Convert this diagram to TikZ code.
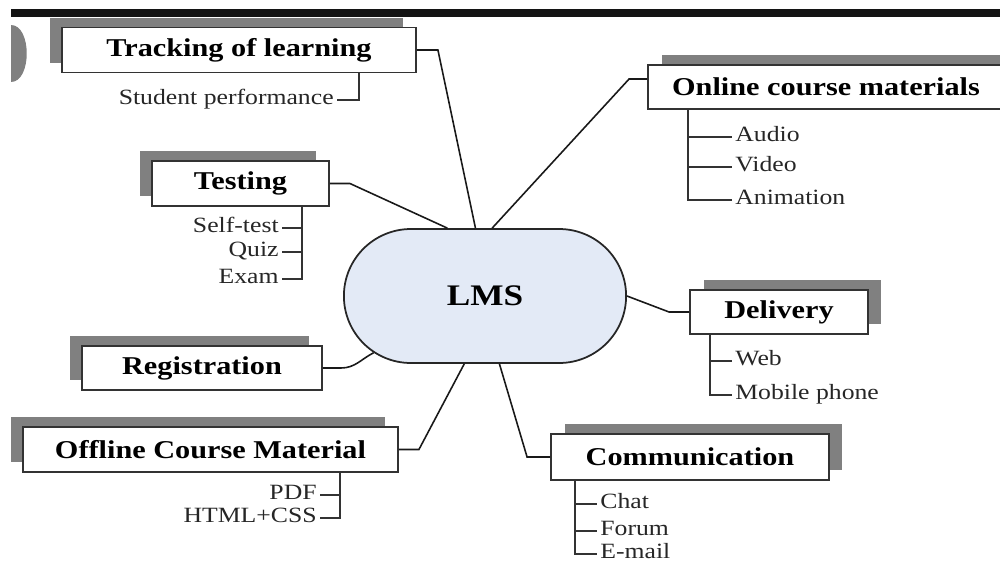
\documentclass[tikz,border=0pt]{standalone}
\usepackage{fontspec}
\setmainfont{Liberation Serif}[FakeStretch=1.18]
\usetikzlibrary{shapes.misc,shadows}
\definecolor{castgray}{HTML}{808080}
\definecolor{hubfill}{HTML}{E3EAF6}
\definecolor{ink}{HTML}{333333}

\begin{document}
\begin{tikzpicture}[x=0.02cm,y=-0.02cm,
		topic/.style={draw=ink,line width=1.1pt,fill=white,inner sep=0pt,minimum height=0.9cm,font=\fontsize{14.6}{16}\selectfont\bfseries},
		lcast/.style={topic,drop shadow={shadow xshift=-0.25cm,shadow yshift=0.2cm,fill=castgray,opacity=1}},
		rcast/.style={topic,drop shadow={shadow xshift=0.27cm,shadow yshift=0.2cm,fill=castgray,opacity=1}},
		item/.style={inner sep=0.06cm,text=black!85,font=\fontsize{12.4}{14}\selectfont},
		hub/.style={rounded rectangle,draw=black!85,line width=1pt,fill=hubfill,minimum width=5.88cm,minimum height=2.68cm,font=\fontsize{17}{20}\selectfont\bfseries},
		spoke/.style={draw=black!90,line width=0.9pt},
		twig/.style={draw=ink,line width=1pt}]
		\useasboundingbox (0,0) rectangle (1000,562);
		\fill[black!92] (11,9) rectangle (1000,17);
		\fill[castgray] (11,25) .. controls (32,25) and (32,82) .. (11,82) -- cycle;

		\node[hub] (lms) at (485,296) {LMS};
		\node[lcast,minimum width=7.08cm] (track) at (239,50) {Tracking of learning};
		\node[lcast,minimum width=3.54cm] (test) at (240.5,183.5) {Testing};
		\node[lcast,minimum width=4.8cm,minimum height=0.88cm] (reg) at (202,368) {Registration};
		\node[lcast,minimum width=7.5cm] (offline) at (210.5,449.5) {Offline Course Material};
		\node[rcast,minimum width=7.12cm,minimum height=0.88cm] (online) at (826,87) {Online course materials};
		\node[rcast,minimum width=3.56cm,minimum height=0.88cm] (deliv) at (779,312) {Delivery};
		\node[rcast,minimum width=5.56cm,minimum height=0.92cm] (comm) at (690,457) {Communication};

		\node[item,anchor=mid east] (perf) at (337,100) {Student performance};
		\node[item,anchor=mid east] (selftest) at (282,228) {Self-test};
		\node[item,anchor=mid east] (quiz) at (282,252) {Quiz};
		\node[item,anchor=mid east] (exam) at (282,279) {Exam};
		\node[item,anchor=mid west] (audio) at (732,137) {Audio};
		\node[item,anchor=mid west] (video) at (732,167) {Video};
		\node[item,anchor=mid west] (anim) at (732,200) {Animation};
		\node[item,anchor=mid west] (web) at (732,361) {Web};
		\node[item,anchor=mid west] (mobile) at (732,395) {Mobile phone};
		\node[item,anchor=mid west] (chat) at (597,504) {Chat};
		\node[item,anchor=mid west] (forum) at (597,531) {Forum};
		\node[item,anchor=mid west] (email) at (597,554) {E-mail};
		\node[item,anchor=mid east] (pdf) at (320,495) {PDF};
		\node[item,anchor=mid east] (html) at (320,518) {HTML+CSS};

		\path[spoke]
			(track.east) -- ++(21,0) -- (lms.98)
			(test.east) -- ++(20,0) -- (lms.119)
			([yshift=0.16cm]online.west) -- ++(-18,0) -- (lms.84)
			(lms.east) -- ([xshift=-0.4cm]deliv.west) -- (deliv.west)
			(reg.east) -- ++(18,0) to[out=0,in=207] (lms.207)
			(offline.east) -- ++(20,0) -- (lms.253)
			(lms.282) -- ([xshift=-0.46cm]comm.west) -- (comm.west);

		\path[twig]
			([xshift=2.4cm]track.south) |- (perf.mid east)
			([xshift=1.23cm]test.south) |- (selftest.mid east)
			([xshift=1.23cm]test.south) |- (quiz.mid east)
			([xshift=1.23cm]test.south) |- (exam.mid east)
			([xshift=-2.76cm]online.south) |- (audio.mid west)
			([xshift=-2.76cm]online.south) |- (video.mid west)
			([xshift=-2.76cm]online.south) |- (anim.mid west)
			([xshift=-1.38cm]deliv.south) |- (web.mid west)
			([xshift=-1.38cm]deliv.south) |- (mobile.mid west)
			([xshift=-2.3cm]comm.south) |- (chat.mid west)
			([xshift=-2.3cm]comm.south) |- (forum.mid west)
			([xshift=-2.3cm]comm.south) |- (email.mid west)
			([xshift=2.59cm]offline.south) |- (pdf.mid east)
			([xshift=2.59cm]offline.south) |- (html.mid east);
	\end{tikzpicture}
\end{document}
